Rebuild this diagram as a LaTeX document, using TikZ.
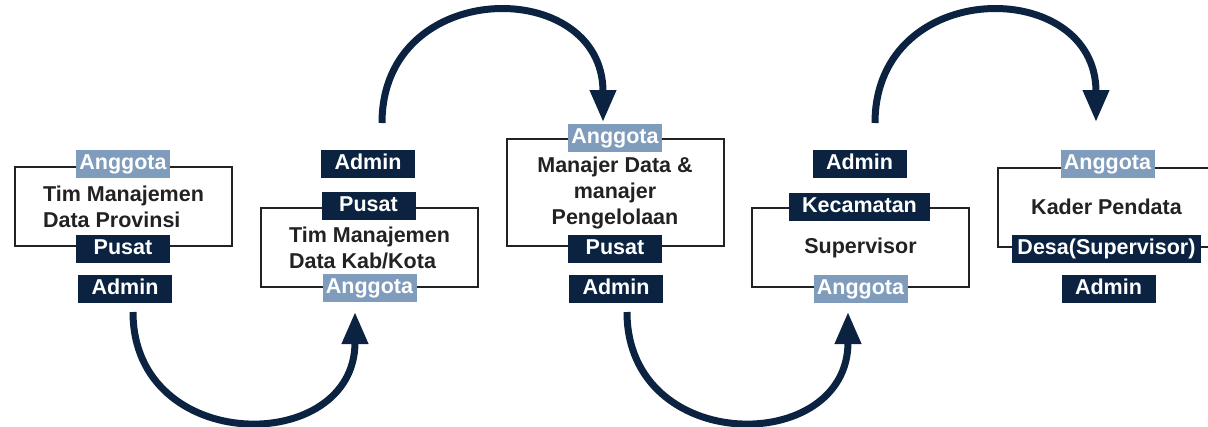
\documentclass[tikz,border=0pt]{standalone}
\usepackage{fontspec}
\setmainfont{Liberation Sans}
\usetikzlibrary{arrows.meta}
\definecolor{navy}{HTML}{0B2341}
\definecolor{steel}{HTML}{7F9CBD}
\definecolor{ink}{HTML}{222222}

\begin{document}
\begin{tikzpicture}[x=1pt,y=-1pt,
    every node/.style={font=\fontsize{21.5}{26}\selectfont\bfseries,inner sep=0pt},
    frame/.style={draw=ink,line width=2pt,text=ink,minimum width=217pt,minimum height=79pt},
    admin/.style={fill=navy,text=white,minimum width=94pt,minimum height=28pt,text height=15pt,text depth=4pt},
    member/.style={fill=steel,text=white,minimum width=94pt,minimum height=28pt,text height=15pt,text depth=4pt},
    flow/.style={draw=navy,line width=7pt,-{Triangle[width=25pt,length=32pt]}}]
                \useasboundingbox (0,0) rectangle (1208,426);
                \clip (0,0) rectangle (1208,426);

                \node[frame,align=left] (prov) at (123.5,206.5) {Tim Manajemen\\Data Provinsi};
                \node[member] (prov-a) at (123,164) {Anggota};
                \node[admin] (prov-p) at (123,248.5) {Pusat};
                \node[admin] (prov-m) at (125,288.5) {Admin};

                \node[frame,align=left] (kab) at (369.5,247.5) {Tim Manajemen\\Data Kab/Kota};
                \node[admin] (kab-m) at (368,164) {Admin};
                \node[admin] (kab-p) at (368.5,205.5) {Pusat};
                \node[member] (kab-a) at (369.5,288) {Anggota};

                \node[frame,align=center,minimum height=107pt] (mgr) at (615,192.5) {Manajer Data \&\\manajer\\Pengelolaan};
                \node[member] (mgr-a) at (615,138) {Anggota};
                \node[admin] (mgr-p) at (615,248.5) {Pusat};
                \node[admin] (mgr-m) at (616,288.5) {Admin};

                \node[frame] (sup) at (860.5,247.5) {Supervisor};
                \node[admin] (sup-m) at (859.5,164) {Admin};
                \node[admin,minimum width=141pt] (sup-k) at (859.5,206.5) {Kecamatan};
                \node[member] (sup-a) at (860.5,288.5) {Anggota};

                \node[frame] (kdr) at (1106.5,207) {Kader Pendata};
                \node[member] (kdr-a) at (1107.5,164) {Anggota};
                \node[admin,minimum width=189pt] (kdr-d) at (1106.5,248.5) {Desa(Supervisor)};
                \node[admin] (kdr-m) at (1108.5,288.5) {Admin};

                \coordinate (s1) at (133,312);
                \coordinate (e1) at (355,312);
                \coordinate (s2) at (382,123);
                \coordinate (e2) at (603,122);
                \coordinate (s3) at (627,312);
                \coordinate (e3) at (848,312);
                \coordinate (s4) at (875,123);
                \coordinate (e4) at (1096,122);

                \draw[flow] (s1) .. controls +(0,144) and +(0,144) .. (e1);
                \draw[flow] (s2) .. controls +(0,-147) and +(0,-146) .. (e2);
                \draw[flow] (s3) .. controls +(0,144) and +(0,144) .. (e3);
                \draw[flow] (s4) .. controls +(0,-147) and +(0,-146) .. (e4);
            \end{tikzpicture}
\end{document}
